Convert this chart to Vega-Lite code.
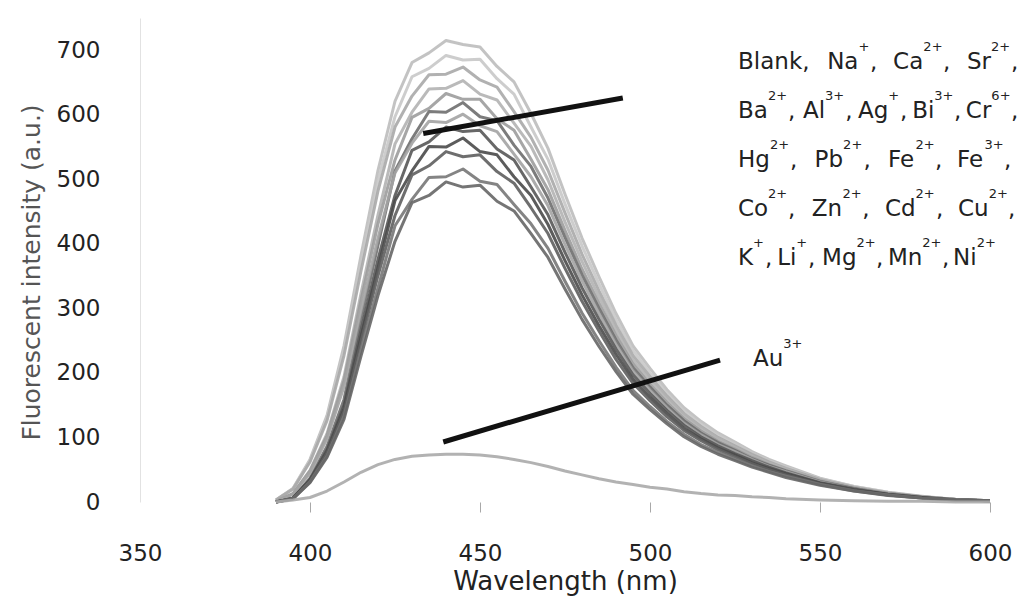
{
  "$schema": "https://vega.github.io/schema/vega-lite/v6.json",
  "width": 850,
  "height": 484,
  "autosize": "none",
  "padding": {"left": 140, "top": 18, "right": 29, "bottom": 95},
  "background": "white",
  "config": {"view": {"stroke": null}, "font": "DejaVu Sans"},
  "datasets": {
    "spectra": [
      {"s":"r01","nm":390,"a":3},{"s":"r01","nm":395,"a":21},{"s":"r01","nm":400,"a":66},{"s":"r01","nm":405,"a":134},{"s":"r01","nm":410,"a":242},{"s":"r01","nm":415,"a":382},{"s":"r01","nm":420,"a":514},{"s":"r01","nm":425,"a":621},{"s":"r01","nm":430,"a":681},{"s":"r01","nm":435,"a":696},{"s":"r01","nm":440,"a":715},{"s":"r01","nm":445,"a":709},{"s":"r01","nm":450,"a":705},{"s":"r01","nm":455,"a":675},{"s":"r01","nm":460,"a":651},{"s":"r01","nm":465,"a":602},{"s":"r01","nm":470,"a":548},{"s":"r01","nm":475,"a":477},{"s":"r01","nm":480,"a":409},{"s":"r01","nm":485,"a":349},{"s":"r01","nm":490,"a":292},{"s":"r01","nm":495,"a":242},{"s":"r01","nm":500,"a":207},{"s":"r01","nm":505,"a":174},{"s":"r01","nm":510,"a":146},{"s":"r01","nm":515,"a":125},{"s":"r01","nm":520,"a":107},{"s":"r01","nm":525,"a":93},{"s":"r01","nm":530,"a":78},{"s":"r01","nm":535,"a":66},{"s":"r01","nm":540,"a":56},{"s":"r01","nm":550,"a":37},{"s":"r01","nm":560,"a":24},{"s":"r01","nm":570,"a":15},{"s":"r01","nm":580,"a":9},{"s":"r01","nm":590,"a":4},{"s":"r01","nm":600,"a":2},
      {"s":"r02","nm":390,"a":3},{"s":"r02","nm":395,"a":21},{"s":"r02","nm":400,"a":64},{"s":"r02","nm":405,"a":130},{"s":"r02","nm":410,"a":235},{"s":"r02","nm":415,"a":370},{"s":"r02","nm":420,"a":498},{"s":"r02","nm":425,"a":597},{"s":"r02","nm":430,"a":659},{"s":"r02","nm":435,"a":672},{"s":"r02","nm":440,"a":692},{"s":"r02","nm":445,"a":685},{"s":"r02","nm":450,"a":686},{"s":"r02","nm":455,"a":656},{"s":"r02","nm":460,"a":632},{"s":"r02","nm":465,"a":581},{"s":"r02","nm":470,"a":531},{"s":"r02","nm":475,"a":462},{"s":"r02","nm":480,"a":397},{"s":"r02","nm":485,"a":338},{"s":"r02","nm":490,"a":283},{"s":"r02","nm":495,"a":235},{"s":"r02","nm":500,"a":200},{"s":"r02","nm":505,"a":169},{"s":"r02","nm":510,"a":142},{"s":"r02","nm":515,"a":121},{"s":"r02","nm":520,"a":104},{"s":"r02","nm":525,"a":90},{"s":"r02","nm":530,"a":76},{"s":"r02","nm":535,"a":64},{"s":"r02","nm":540,"a":54},{"s":"r02","nm":550,"a":36},{"s":"r02","nm":560,"a":24},{"s":"r02","nm":570,"a":15},{"s":"r02","nm":580,"a":8},{"s":"r02","nm":590,"a":4},{"s":"r02","nm":600,"a":2},
      {"s":"r03","nm":390,"a":3},{"s":"r03","nm":395,"a":20},{"s":"r03","nm":400,"a":62},{"s":"r03","nm":405,"a":126},{"s":"r03","nm":410,"a":227},{"s":"r03","nm":415,"a":358},{"s":"r03","nm":420,"a":482},{"s":"r03","nm":425,"a":581},{"s":"r03","nm":430,"a":629},{"s":"r03","nm":435,"a":662},{"s":"r03","nm":440,"a":663},{"s":"r03","nm":445,"a":674},{"s":"r03","nm":450,"a":654},{"s":"r03","nm":455,"a":643},{"s":"r03","nm":460,"a":605},{"s":"r03","nm":465,"a":565},{"s":"r03","nm":470,"a":514},{"s":"r03","nm":475,"a":448},{"s":"r03","nm":480,"a":384},{"s":"r03","nm":485,"a":327},{"s":"r03","nm":490,"a":274},{"s":"r03","nm":495,"a":227},{"s":"r03","nm":500,"a":194},{"s":"r03","nm":505,"a":164},{"s":"r03","nm":510,"a":137},{"s":"r03","nm":515,"a":117},{"s":"r03","nm":520,"a":100},{"s":"r03","nm":525,"a":87},{"s":"r03","nm":530,"a":74},{"s":"r03","nm":535,"a":62},{"s":"r03","nm":540,"a":52},{"s":"r03","nm":550,"a":35},{"s":"r03","nm":560,"a":23},{"s":"r03","nm":570,"a":14},{"s":"r03","nm":580,"a":8},{"s":"r03","nm":590,"a":4},{"s":"r03","nm":600,"a":2},
      {"s":"r04","nm":390,"a":1},{"s":"r04","nm":395,"a":13},{"s":"r04","nm":400,"a":49},{"s":"r04","nm":405,"a":106},{"s":"r04","nm":410,"a":194},{"s":"r04","nm":415,"a":323},{"s":"r04","nm":420,"a":445},{"s":"r04","nm":425,"a":555},{"s":"r04","nm":430,"a":604},{"s":"r04","nm":435,"a":640},{"s":"r04","nm":440,"a":641},{"s":"r04","nm":445,"a":653},{"s":"r04","nm":450,"a":632},{"s":"r04","nm":455,"a":623},{"s":"r04","nm":460,"a":587},{"s":"r04","nm":465,"a":551},{"s":"r04","nm":470,"a":499},{"s":"r04","nm":475,"a":434},{"s":"r04","nm":480,"a":373},{"s":"r04","nm":485,"a":318},{"s":"r04","nm":490,"a":266},{"s":"r04","nm":495,"a":220},{"s":"r04","nm":500,"a":188},{"s":"r04","nm":505,"a":159},{"s":"r04","nm":510,"a":133},{"s":"r04","nm":515,"a":113},{"s":"r04","nm":520,"a":97},{"s":"r04","nm":525,"a":84},{"s":"r04","nm":530,"a":71},{"s":"r04","nm":535,"a":60},{"s":"r04","nm":540,"a":51},{"s":"r04","nm":550,"a":34},{"s":"r04","nm":560,"a":22},{"s":"r04","nm":570,"a":14},{"s":"r04","nm":580,"a":8},{"s":"r04","nm":590,"a":4},{"s":"r04","nm":600,"a":2},
      {"s":"r05","nm":390,"a":1},{"s":"r05","nm":395,"a":13},{"s":"r05","nm":400,"a":48},{"s":"r05","nm":405,"a":103},{"s":"r05","nm":410,"a":188},{"s":"r05","nm":415,"a":313},{"s":"r05","nm":420,"a":431},{"s":"r05","nm":425,"a":530},{"s":"r05","nm":430,"a":596},{"s":"r05","nm":435,"a":610},{"s":"r05","nm":440,"a":633},{"s":"r05","nm":445,"a":624},{"s":"r05","nm":450,"a":624},{"s":"r05","nm":455,"a":594},{"s":"r05","nm":460,"a":576},{"s":"r05","nm":465,"a":531},{"s":"r05","nm":470,"a":484},{"s":"r05","nm":475,"a":421},{"s":"r05","nm":480,"a":361},{"s":"r05","nm":485,"a":308},{"s":"r05","nm":490,"a":258},{"s":"r05","nm":495,"a":214},{"s":"r05","nm":500,"a":182},{"s":"r05","nm":505,"a":154},{"s":"r05","nm":510,"a":129},{"s":"r05","nm":515,"a":110},{"s":"r05","nm":520,"a":94},{"s":"r05","nm":525,"a":82},{"s":"r05","nm":530,"a":69},{"s":"r05","nm":535,"a":58},{"s":"r05","nm":540,"a":49},{"s":"r05","nm":550,"a":33},{"s":"r05","nm":560,"a":21},{"s":"r05","nm":570,"a":13},{"s":"r05","nm":580,"a":8},{"s":"r05","nm":590,"a":4},{"s":"r05","nm":600,"a":2},
      {"s":"r06","nm":390,"a":0},{"s":"r06","nm":395,"a":6},{"s":"r06","nm":400,"a":37},{"s":"r06","nm":405,"a":86},{"s":"r06","nm":410,"a":159},{"s":"r06","nm":415,"a":282},{"s":"r06","nm":420,"a":398},{"s":"r06","nm":425,"a":513},{"s":"r06","nm":430,"a":563},{"s":"r06","nm":435,"a":605},{"s":"r06","nm":440,"a":604},{"s":"r06","nm":445,"a":619},{"s":"r06","nm":450,"a":597},{"s":"r06","nm":455,"a":591},{"s":"r06","nm":460,"a":553},{"s":"r06","nm":465,"a":520},{"s":"r06","nm":470,"a":471},{"s":"r06","nm":475,"a":410},{"s":"r06","nm":480,"a":352},{"s":"r06","nm":485,"a":300},{"s":"r06","nm":490,"a":251},{"s":"r06","nm":495,"a":208},{"s":"r06","nm":500,"a":178},{"s":"r06","nm":505,"a":150},{"s":"r06","nm":510,"a":126},{"s":"r06","nm":515,"a":107},{"s":"r06","nm":520,"a":92},{"s":"r06","nm":525,"a":80},{"s":"r06","nm":530,"a":67},{"s":"r06","nm":535,"a":57},{"s":"r06","nm":540,"a":48},{"s":"r06","nm":550,"a":32},{"s":"r06","nm":560,"a":21},{"s":"r06","nm":570,"a":13},{"s":"r06","nm":580,"a":7},{"s":"r06","nm":590,"a":4},{"s":"r06","nm":600,"a":2},
      {"s":"r07","nm":390,"a":1},{"s":"r07","nm":395,"a":12},{"s":"r07","nm":400,"a":45},{"s":"r07","nm":405,"a":98},{"s":"r07","nm":410,"a":179},{"s":"r07","nm":415,"a":297},{"s":"r07","nm":420,"a":409},{"s":"r07","nm":425,"a":510},{"s":"r07","nm":430,"a":556},{"s":"r07","nm":435,"a":590},{"s":"r07","nm":440,"a":588},{"s":"r07","nm":445,"a":601},{"s":"r07","nm":450,"a":583},{"s":"r07","nm":455,"a":574},{"s":"r07","nm":460,"a":539},{"s":"r07","nm":465,"a":504},{"s":"r07","nm":470,"a":459},{"s":"r07","nm":475,"a":399},{"s":"r07","nm":480,"a":343},{"s":"r07","nm":485,"a":292},{"s":"r07","nm":490,"a":244},{"s":"r07","nm":495,"a":203},{"s":"r07","nm":500,"a":173},{"s":"r07","nm":505,"a":146},{"s":"r07","nm":510,"a":122},{"s":"r07","nm":515,"a":104},{"s":"r07","nm":520,"a":89},{"s":"r07","nm":525,"a":78},{"s":"r07","nm":530,"a":66},{"s":"r07","nm":535,"a":55},{"s":"r07","nm":540,"a":47},{"s":"r07","nm":550,"a":31},{"s":"r07","nm":560,"a":20},{"s":"r07","nm":570,"a":13},{"s":"r07","nm":580,"a":7},{"s":"r07","nm":590,"a":4},{"s":"r07","nm":600,"a":2},
      {"s":"r08","nm":390,"a":0},{"s":"r08","nm":395,"a":6},{"s":"r08","nm":400,"a":35},{"s":"r08","nm":405,"a":81},{"s":"r08","nm":410,"a":150},{"s":"r08","nm":415,"a":266},{"s":"r08","nm":420,"a":376},{"s":"r08","nm":425,"a":475},{"s":"r08","nm":430,"a":545},{"s":"r08","nm":435,"a":558},{"s":"r08","nm":440,"a":581},{"s":"r08","nm":445,"a":574},{"s":"r08","nm":450,"a":576},{"s":"r08","nm":455,"a":547},{"s":"r08","nm":460,"a":530},{"s":"r08","nm":465,"a":488},{"s":"r08","nm":470,"a":445},{"s":"r08","nm":475,"a":387},{"s":"r08","nm":480,"a":332},{"s":"r08","nm":485,"a":283},{"s":"r08","nm":490,"a":237},{"s":"r08","nm":495,"a":197},{"s":"r08","nm":500,"a":168},{"s":"r08","nm":505,"a":142},{"s":"r08","nm":510,"a":119},{"s":"r08","nm":515,"a":101},{"s":"r08","nm":520,"a":87},{"s":"r08","nm":525,"a":75},{"s":"r08","nm":530,"a":64},{"s":"r08","nm":535,"a":54},{"s":"r08","nm":540,"a":45},{"s":"r08","nm":550,"a":30},{"s":"r08","nm":560,"a":20},{"s":"r08","nm":570,"a":12},{"s":"r08","nm":580,"a":7},{"s":"r08","nm":590,"a":3},{"s":"r08","nm":600,"a":2},
      {"s":"r09","nm":390,"a":0},{"s":"r09","nm":395,"a":6},{"s":"r09","nm":400,"a":34},{"s":"r09","nm":405,"a":78},{"s":"r09","nm":410,"a":145},{"s":"r09","nm":415,"a":257},{"s":"r09","nm":420,"a":363},{"s":"r09","nm":425,"a":467},{"s":"r09","nm":430,"a":513},{"s":"r09","nm":435,"a":551},{"s":"r09","nm":440,"a":550},{"s":"r09","nm":445,"a":564},{"s":"r09","nm":450,"a":543},{"s":"r09","nm":455,"a":538},{"s":"r09","nm":460,"a":504},{"s":"r09","nm":465,"a":475},{"s":"r09","nm":470,"a":430},{"s":"r09","nm":475,"a":374},{"s":"r09","nm":480,"a":321},{"s":"r09","nm":485,"a":273},{"s":"r09","nm":490,"a":229},{"s":"r09","nm":495,"a":190},{"s":"r09","nm":500,"a":162},{"s":"r09","nm":505,"a":137},{"s":"r09","nm":510,"a":114},{"s":"r09","nm":515,"a":98},{"s":"r09","nm":520,"a":84},{"s":"r09","nm":525,"a":73},{"s":"r09","nm":530,"a":61},{"s":"r09","nm":535,"a":52},{"s":"r09","nm":540,"a":44},{"s":"r09","nm":550,"a":29},{"s":"r09","nm":560,"a":19},{"s":"r09","nm":570,"a":12},{"s":"r09","nm":580,"a":7},{"s":"r09","nm":590,"a":3},{"s":"r09","nm":600,"a":2},
      {"s":"r10","nm":390,"a":0},{"s":"r10","nm":395,"a":5},{"s":"r10","nm":400,"a":32},{"s":"r10","nm":405,"a":76},{"s":"r10","nm":410,"a":140},{"s":"r10","nm":415,"a":248},{"s":"r10","nm":420,"a":351},{"s":"r10","nm":425,"a":444},{"s":"r10","nm":430,"a":507},{"s":"r10","nm":435,"a":521},{"s":"r10","nm":440,"a":543},{"s":"r10","nm":445,"a":535},{"s":"r10","nm":450,"a":538},{"s":"r10","nm":455,"a":512},{"s":"r10","nm":460,"a":494},{"s":"r10","nm":465,"a":456},{"s":"r10","nm":470,"a":416},{"s":"r10","nm":475,"a":362},{"s":"r10","nm":480,"a":311},{"s":"r10","nm":485,"a":265},{"s":"r10","nm":490,"a":221},{"s":"r10","nm":495,"a":184},{"s":"r10","nm":500,"a":157},{"s":"r10","nm":505,"a":132},{"s":"r10","nm":510,"a":111},{"s":"r10","nm":515,"a":95},{"s":"r10","nm":520,"a":81},{"s":"r10","nm":525,"a":70},{"s":"r10","nm":530,"a":59},{"s":"r10","nm":535,"a":50},{"s":"r10","nm":540,"a":42},{"s":"r10","nm":550,"a":28},{"s":"r10","nm":560,"a":18},{"s":"r10","nm":570,"a":11},{"s":"r10","nm":580,"a":6},{"s":"r10","nm":590,"a":3},{"s":"r10","nm":600,"a":2},
      {"s":"r11","nm":390,"a":0},{"s":"r11","nm":395,"a":5},{"s":"r11","nm":400,"a":31},{"s":"r11","nm":405,"a":71},{"s":"r11","nm":410,"a":133},{"s":"r11","nm":415,"a":235},{"s":"r11","nm":420,"a":332},{"s":"r11","nm":425,"a":428},{"s":"r11","nm":430,"a":469},{"s":"r11","nm":435,"a":503},{"s":"r11","nm":440,"a":504},{"s":"r11","nm":445,"a":516},{"s":"r11","nm":450,"a":497},{"s":"r11","nm":455,"a":492},{"s":"r11","nm":460,"a":461},{"s":"r11","nm":465,"a":431},{"s":"r11","nm":470,"a":393},{"s":"r11","nm":475,"a":342},{"s":"r11","nm":480,"a":293},{"s":"r11","nm":485,"a":250},{"s":"r11","nm":490,"a":209},{"s":"r11","nm":495,"a":173},{"s":"r11","nm":500,"a":148},{"s":"r11","nm":505,"a":125},{"s":"r11","nm":510,"a":105},{"s":"r11","nm":515,"a":89},{"s":"r11","nm":520,"a":77},{"s":"r11","nm":525,"a":66},{"s":"r11","nm":530,"a":56},{"s":"r11","nm":535,"a":47},{"s":"r11","nm":540,"a":40},{"s":"r11","nm":550,"a":27},{"s":"r11","nm":560,"a":17},{"s":"r11","nm":570,"a":11},{"s":"r11","nm":580,"a":6},{"s":"r11","nm":590,"a":3},{"s":"r11","nm":600,"a":2},
      {"s":"r12","nm":390,"a":0},{"s":"r12","nm":395,"a":5},{"s":"r12","nm":400,"a":30},{"s":"r12","nm":405,"a":69},{"s":"r12","nm":410,"a":128},{"s":"r12","nm":415,"a":226},{"s":"r12","nm":420,"a":320},{"s":"r12","nm":425,"a":404},{"s":"r12","nm":430,"a":464},{"s":"r12","nm":435,"a":475},{"s":"r12","nm":440,"a":496},{"s":"r12","nm":445,"a":488},{"s":"r12","nm":450,"a":491},{"s":"r12","nm":455,"a":466},{"s":"r12","nm":460,"a":451},{"s":"r12","nm":465,"a":416},{"s":"r12","nm":470,"a":379},{"s":"r12","nm":475,"a":330},{"s":"r12","nm":480,"a":283},{"s":"r12","nm":485,"a":241},{"s":"r12","nm":490,"a":202},{"s":"r12","nm":495,"a":167},{"s":"r12","nm":500,"a":143},{"s":"r12","nm":505,"a":121},{"s":"r12","nm":510,"a":101},{"s":"r12","nm":515,"a":86},{"s":"r12","nm":520,"a":74},{"s":"r12","nm":525,"a":64},{"s":"r12","nm":530,"a":54},{"s":"r12","nm":535,"a":46},{"s":"r12","nm":540,"a":38},{"s":"r12","nm":550,"a":26},{"s":"r12","nm":560,"a":17},{"s":"r12","nm":570,"a":10},{"s":"r12","nm":580,"a":6},{"s":"r12","nm":590,"a":3},{"s":"r12","nm":600,"a":2},
      {"s":"Au3+","nm":390,"a":0},{"s":"Au3+","nm":395,"a":3},{"s":"Au3+","nm":400,"a":7},{"s":"Au3+","nm":405,"a":17},{"s":"Au3+","nm":410,"a":31},{"s":"Au3+","nm":415,"a":46},{"s":"Au3+","nm":420,"a":58},{"s":"Au3+","nm":425,"a":66},{"s":"Au3+","nm":430,"a":71},{"s":"Au3+","nm":435,"a":73},{"s":"Au3+","nm":440,"a":74},{"s":"Au3+","nm":445,"a":74},{"s":"Au3+","nm":450,"a":73},{"s":"Au3+","nm":455,"a":70},{"s":"Au3+","nm":460,"a":66},{"s":"Au3+","nm":465,"a":61},{"s":"Au3+","nm":470,"a":55},{"s":"Au3+","nm":475,"a":48},{"s":"Au3+","nm":480,"a":42},{"s":"Au3+","nm":485,"a":36},{"s":"Au3+","nm":490,"a":31},{"s":"Au3+","nm":495,"a":27},{"s":"Au3+","nm":500,"a":23},{"s":"Au3+","nm":505,"a":20},{"s":"Au3+","nm":510,"a":16},{"s":"Au3+","nm":515,"a":13},{"s":"Au3+","nm":520,"a":11},{"s":"Au3+","nm":525,"a":10},{"s":"Au3+","nm":530,"a":8},{"s":"Au3+","nm":535,"a":7},{"s":"Au3+","nm":540,"a":5},{"s":"Au3+","nm":550,"a":3},{"s":"Au3+","nm":560,"a":2},{"s":"Au3+","nm":570,"a":1},{"s":"Au3+","nm":580,"a":1},{"s":"Au3+","nm":590,"a":0},{"s":"Au3+","nm":600,"a":0}
    ],
    "pointers": [
      {"seg": "group", "nm": 433.3, "a": 571},
      {"seg": "group", "nm": 492, "a": 626},
      {"seg": "gold", "nm": 439.2, "a": 93},
      {"seg": "gold", "nm": 520.6, "a": 220}
    ],
    "notes": [
      {"part": "base", "t": "Blank,", "nm": 525.9, "a": 671},
      {"part": "base", "t": "Na", "nm": 552.1, "a": 671},
      {"part": "sup", "t": "+", "nm": 561.3, "a": 671},
      {"part": "base", "t": ",", "nm": 564.7, "a": 671},
      {"part": "base", "t": "Ca", "nm": 571.5, "a": 671},
      {"part": "sup", "t": "2+", "nm": 580.4, "a": 671},
      {"part": "base", "t": ",", "nm": 586.2, "a": 671},
      {"part": "base", "t": "Sr", "nm": 593.2, "a": 671},
      {"part": "sup", "t": "2+", "nm": 600.3, "a": 671},
      {"part": "base", "t": ",", "nm": 606.2, "a": 671},

      {"part": "base", "t": "Ba", "nm": 525.9, "a": 595},
      {"part": "sup", "t": "2+", "nm": 534.7, "a": 595},
      {"part": "base", "t": ",", "nm": 540.6, "a": 595},
      {"part": "base", "t": "Al", "nm": 545.0, "a": 595},
      {"part": "sup", "t": "3+", "nm": 551.5, "a": 595},
      {"part": "base", "t": ",", "nm": 557.4, "a": 595},
      {"part": "base", "t": "Ag", "nm": 561.2, "a": 595},
      {"part": "sup", "t": "+", "nm": 570.1, "a": 595},
      {"part": "base", "t": ",", "nm": 573.5, "a": 595},
      {"part": "base", "t": "Bi", "nm": 577.1, "a": 595},
      {"part": "sup", "t": "3+", "nm": 583.6, "a": 595},
      {"part": "base", "t": ",", "nm": 589.4, "a": 595},
      {"part": "base", "t": "Cr", "nm": 592.9, "a": 595},
      {"part": "sup", "t": "6+", "nm": 600.4, "a": 595},
      {"part": "base", "t": ",", "nm": 606.2, "a": 595},

      {"part": "base", "t": "Hg", "nm": 525.9, "a": 519},
      {"part": "sup", "t": "2+", "nm": 535.3, "a": 519},
      {"part": "base", "t": ",", "nm": 541.2, "a": 519},
      {"part": "base", "t": "Pb", "nm": 548.4, "a": 519},
      {"part": "sup", "t": "2+", "nm": 556.8, "a": 519},
      {"part": "base", "t": ",", "nm": 562.8, "a": 519},
      {"part": "base", "t": "Fe", "nm": 570.0, "a": 519},
      {"part": "sup", "t": "2+", "nm": 578.1, "a": 519},
      {"part": "base", "t": ",", "nm": 583.8, "a": 519},
      {"part": "base", "t": "Fe", "nm": 590.3, "a": 519},
      {"part": "sup", "t": "3+", "nm": 598.4, "a": 519},
      {"part": "base", "t": ",", "nm": 604.1, "a": 519},

      {"part": "base", "t": "Co", "nm": 525.9, "a": 443},
      {"part": "sup", "t": "2+", "nm": 534.7, "a": 443},
      {"part": "base", "t": ",", "nm": 540.6, "a": 443},
      {"part": "base", "t": "Zn", "nm": 547.6, "a": 443},
      {"part": "sup", "t": "2+", "nm": 556.6, "a": 443},
      {"part": "base", "t": ",", "nm": 562.4, "a": 443},
      {"part": "base", "t": "Cd", "nm": 569.1, "a": 443},
      {"part": "sup", "t": "2+", "nm": 578.1, "a": 443},
      {"part": "base", "t": ",", "nm": 584.1, "a": 443},
      {"part": "base", "t": "Cu", "nm": 590.6, "a": 443},
      {"part": "sup", "t": "2+", "nm": 599.6, "a": 443},
      {"part": "base", "t": ",", "nm": 605.3, "a": 443},

      {"part": "base", "t": "K", "nm": 525.9, "a": 367},
      {"part": "sup", "t": "+", "nm": 530.3, "a": 367},
      {"part": "base", "t": ",", "nm": 533.8, "a": 367},
      {"part": "base", "t": "Li", "nm": 537.4, "a": 367},
      {"part": "sup", "t": "+", "nm": 543.0, "a": 367},
      {"part": "base", "t": ",", "nm": 546.5, "a": 367},
      {"part": "base", "t": "Mg", "nm": 550.6, "a": 367},
      {"part": "sup", "t": "2+", "nm": 560.7, "a": 367},
      {"part": "base", "t": ",", "nm": 566.5, "a": 367},
      {"part": "base", "t": "Mn", "nm": 570.0, "a": 367},
      {"part": "sup", "t": "2+", "nm": 580.1, "a": 367},
      {"part": "base", "t": ",", "nm": 585.9, "a": 367},
      {"part": "base", "t": "Ni", "nm": 589.1, "a": 367},
      {"part": "sup", "t": "2+", "nm": 596.1, "a": 367},

      {"part": "base", "t": "Au", "nm": 530.3, "a": 211},
      {"part": "sup", "t": "3+", "nm": 539.2, "a": 211}
    ]
  },
  "layer": [
    {
      "data": {"name": "spectra"},
      "mark": {"type": "line", "strokeWidth": 3, "strokeJoin": "round", "opacity": 0.9},
      "encoding": {
        "x": {
          "field": "nm",
          "type": "quantitative",
          "scale": {"domain": [350, 600], "nice": false},
          "axis": {
            "title": "Wavelength (nm)",
            "values": [350, 400, 450, 500, 550, 600],
            "grid": false,
            "domain": false,
            "ticks": true,
            "tickSize": 10,
            "tickColor": "#a8a8a8",
            "tickOpacity": {"condition": {"test": "datum.value <= 350", "value": 0}, "value": 1},
            "labelFontSize": 23,
            "labelColor": "#222222",
            "labelBaseline": "middle",
            "labelPadding": 41,
            "labelFlush": false,
            "titleFontSize": 26,
            "titleFontWeight": "normal",
            "titleColor": "#222222",
            "titlePadding": 3
          }
        },
        "y": {
          "field": "a",
          "type": "quantitative",
          "scale": {"domain": [0, 750], "nice": false},
          "axis": {
            "title": "Fluorescent intensity (a.u.)",
            "values": [0, 100, 200, 300, 400, 500, 600, 700],
            "grid": false,
            "ticks": false,
            "tickSize": 0,
            "domainColor": "#e2e2e2",
            "labelFontSize": 23,
            "labelColor": "#222222",
            "labelPadding": 40,
            "titleFontSize": 25,
            "titleFontWeight": "normal",
            "titleColor": "#555555",
            "titlePadding": 12,
            "titleY": 254
          }
        },
        "color": {
          "field": "s",
          "type": "nominal",
          "legend": null,
          "scale": {
            "domain": ["Au3+", "r01", "r02", "r03", "r04", "r05", "r07", "r06", "r11", "r12", "r10", "r08", "r09"],
            "range": ["#aaaaaa", "#bdbdbd", "#c8c8c8", "#a9a9a9", "#b3b3b3", "#9c9c9c", "#a3a3a3", "#6e6e6e", "#777777", "#666666", "#5e5e5e", "#585858", "#4a4a4a"]
          }
        }
      }
    },
    {
      "data": {"name": "pointers"},
      "mark": {"type": "line", "color": "#111111", "strokeWidth": 5, "strokeCap": "butt"},
      "encoding": {
        "x": {"field": "nm", "type": "quantitative"},
        "y": {"field": "a", "type": "quantitative"},
        "detail": {"field": "seg"}
      }
    },
    {
      "data": {"name": "notes"},
      "transform": [{"filter": "datum.part === 'base'"}],
      "mark": {"type": "text", "align": "left", "baseline": "alphabetic", "fontSize": 23, "color": "#222222", "font": "DejaVu Sans"},
      "encoding": {
        "x": {"field": "nm", "type": "quantitative"},
        "y": {"field": "a", "type": "quantitative"},
        "text": {"field": "t"}
      }
    },
    {
      "data": {"name": "notes"},
      "transform": [{"filter": "datum.part === 'sup'"}],
      "mark": {"type": "text", "align": "left", "baseline": "alphabetic", "fontSize": 13, "dy": -18, "color": "#222222", "font": "DejaVu Sans"},
      "encoding": {
        "x": {"field": "nm", "type": "quantitative"},
        "y": {"field": "a", "type": "quantitative"},
        "text": {"field": "t"}
      }
    }
  ]
}
